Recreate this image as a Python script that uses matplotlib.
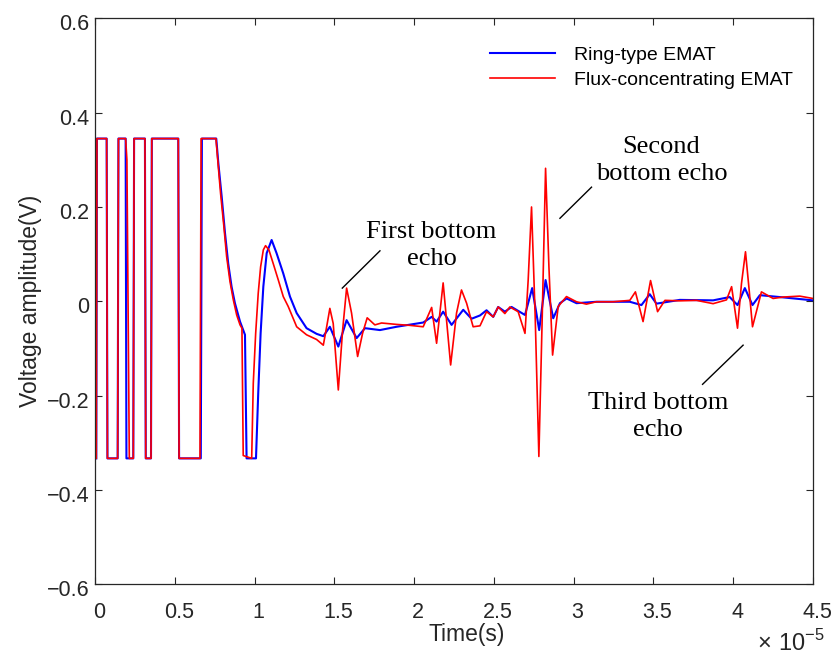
import matplotlib.pyplot as plt
from matplotlib.ticker import FuncFormatter, MultipleLocator
from matplotlib.transforms import ScaledTranslation

# time in units of 1e-5 s, voltage in V
ring_t = [0.008, 0.012, 0.073, 0.078, 0.142, 0.147, 0.192, 0.197, 0.240, 0.245,
          0.313, 0.318, 0.351, 0.356, 0.522, 0.527, 0.663, 0.670, 0.760, 0.773,
          0.794, 0.815, 0.835, 0.856, 0.877, 0.909, 0.940, 0.950, 1.009, 1.023,
          1.038, 1.055, 1.076, 1.107, 1.138, 1.180, 1.222, 1.264, 1.326, 1.389,
          1.431, 1.472, 1.525, 1.577, 1.640, 1.692, 1.786, 1.890, 2.057, 2.110,
          2.141, 2.182, 2.235, 2.308, 2.360, 2.413, 2.454, 2.496, 2.527, 2.569,
          2.611, 2.695, 2.740, 2.784, 2.824, 2.872, 2.914, 2.956, 3.018, 3.143,
          3.352, 3.425, 3.477, 3.519, 3.665, 3.874, 3.978, 4.027, 4.073, 4.121,
          4.167, 4.292, 4.5]
ring_v = [-0.333, 0.345, 0.345, -0.333, -0.333, 0.345, 0.345, -0.333, -0.333, 0.345,
          0.345, -0.333, -0.333, 0.345, 0.345, -0.333, -0.333, 0.345, 0.345, 0.293,
          0.222, 0.144, 0.080, 0.031, -0.004, -0.043, -0.071, -0.333, -0.333, -0.195,
          -0.068, 0.031, 0.102, 0.130, 0.102, 0.059, 0.010, -0.025, -0.057, -0.069,
          -0.074, -0.054, -0.096, -0.040, -0.078, -0.057, -0.061, -0.054, -0.045, -0.033,
          -0.043, -0.022, -0.050, -0.018, -0.037, -0.030, -0.019, -0.033, -0.012, -0.022,
          -0.012, -0.029, 0.028, -0.061, 0.045, -0.036, -0.004, 0.006, -0.004, -0.001,
          -0.001, -0.008, 0.015, -0.005, 0.003, 0.002, 0.009, -0.008, 0.028, -0.008,
          0.013, 0.009, 0.002]

flux_t = [0.008, 0.012, 0.073, 0.078, 0.142, 0.147, 0.192, 0.200, 0.215, 0.240,
          0.245, 0.313, 0.318, 0.351, 0.356, 0.522, 0.527, 0.658, 0.665, 0.758,
          0.773, 0.787, 0.808, 0.825, 0.846, 0.867, 0.888, 0.909, 0.921, 0.929,
          0.982, 0.992, 1.007, 1.023, 1.038, 1.055, 1.069, 1.090, 1.117, 1.149,
          1.180, 1.211, 1.264, 1.326, 1.389, 1.431, 1.452, 1.472, 1.493, 1.525,
          1.552, 1.577, 1.608, 1.646, 1.677, 1.706, 1.754, 1.796, 1.890, 1.974,
          2.057, 2.110, 2.141, 2.182, 2.229, 2.266, 2.297, 2.329, 2.370, 2.413,
          2.454, 2.496, 2.527, 2.569, 2.600, 2.652, 2.695, 2.715, 2.736, 2.759,
          2.782, 2.803, 2.824, 2.845, 2.868, 2.903, 2.955, 3.018, 3.080, 3.143,
          3.248, 3.352, 3.387, 3.435, 3.482, 3.526, 3.572, 3.665, 3.770, 3.874,
          3.958, 3.990, 4.027, 4.052, 4.077, 4.100, 4.121, 4.177, 4.250, 4.313,
          4.417, 4.5]
flux_v = [-0.333, 0.345, 0.345, -0.333, -0.333, 0.345, 0.345, 0.30, -0.333, -0.333,
          0.345, 0.345, -0.333, -0.333, 0.345, 0.345, -0.333, -0.333, 0.345, 0.345,
          0.285, 0.229, 0.158, 0.095, 0.042, 0.003, -0.029, -0.050, -0.057, -0.327,
          -0.333, -0.174, -0.068, 0.017, 0.073, 0.109, 0.118, 0.109, 0.080, 0.045,
          0.010, -0.011, -0.054, -0.071, -0.081, -0.093, -0.054, -0.015, -0.047, -0.188,
          -0.061, 0.028, -0.025, -0.117, -0.068, -0.035, -0.050, -0.046, -0.049, -0.051,
          -0.054, -0.013, -0.089, 0.039, -0.135, -0.025, 0.024, -0.004, -0.054, -0.052,
          -0.022, -0.033, -0.012, -0.026, -0.012, -0.022, -0.068, 0.045, 0.200, -0.033,
          -0.329, -0.033, 0.282, 0.073, -0.114, -0.011, 0.010, -0.001, -0.006, -0.001,
          -0.001, 0.002, 0.020, -0.043, 0.044, -0.022, 0.002, 0.001, 0.002, -0.005,
          0.003, 0.031, -0.057, 0.038, 0.105, 0.024, -0.054, 0.020, 0.006, 0.009,
          0.011, 0.006]

# annotations: text, text centre, pointer line start and end
echo_labels = ["First bottom\necho", "Second\nbottom echo", "Third bottom\necho"]
label_pos = [(2.110, 0.118), (3.550, 0.298), (3.529, -0.244)]
pointer_from = [(1.550, 0.028), (2.914, 0.176), (3.808, -0.176)]
pointer_to = [(1.786, 0.107), (3.112, 0.242), (4.062, -0.093)]

plt.rcParams['font.family'] = ['Liberation Sans', 'DejaVu Sans']
plt.rcParams['mathtext.fontset'] = 'custom'
plt.rcParams['mathtext.rm'] = 'Liberation Sans'

fig = plt.figure(figsize=(8.37, 6.56), dpi=100)
ax = fig.add_axes([0.1135, 0.1093, 0.8578, 0.8628])

ax.plot(ring_t, ring_v, color='#0000ff', lw=1.5, label='Ring-type EMAT')
ax.plot(flux_t, flux_v, color='#ff0000', lw=1.2, label='Flux-concentrating EMAT')

for txt, p, a, b in zip(echo_labels, label_pos, pointer_from, pointer_to):
    ax.plot([a[0], b[0]], [a[1], b[1]], color='black', lw=1.0)
    ax.text(p[0], p[1], txt, ha='center', va='center', fontsize=19,
            family='Liberation Serif', linespacing=1.3)

ax.set_xlim(0, 4.5)
ax.set_ylim(-0.6, 0.6)
ax.xaxis.set_major_locator(MultipleLocator(0.5))
ax.yaxis.set_major_locator(MultipleLocator(0.2))
fmt = FuncFormatter(lambda v, pos: ('%g' % v).replace('-', '\u2212'))
ax.xaxis.set_major_formatter(fmt)
ax.yaxis.set_major_formatter(fmt)
ax.tick_params(direction='in', length=5, width=0.8, labelsize=15.5,
               top=True, right=True, colors='#262626', labelcolor='#262626')
ax.tick_params(axis='x', pad=13)
ax.tick_params(axis='y', pad=4)
for s in ax.spines.values():
    s.set_color('#262626')
    s.set_linewidth(0.9)

# MATLAB-style small shift of tick labels
for lab in ax.get_xticklabels():
    lab.set_transform(lab.get_transform() + ScaledTranslation(0.04, 0, fig.dpi_scale_trans))
for lab in ax.get_yticklabels():
    lab.set_transform(lab.get_transform() + ScaledTranslation(0, -0.04, fig.dpi_scale_trans))

ax.set_xlabel('Time(s)', fontsize=16.5, color='#262626')
ax.xaxis.set_label_coords(0.517, -0.068)
ax.set_ylabel('Voltage amplitude(V)', fontsize=16.5, color='#262626')
ax.yaxis.set_label_coords(-0.074, 0.5)
ax.text(1.017, -0.104, r'$\times\ 10^{-5}$', transform=ax.transAxes,
        ha='right', va='center', fontsize=17, color='#262626')

ax.legend(loc='upper right', frameon=False, fontsize=14, handlelength=3.35,
          handletextpad=1.0, labelspacing=0.4, borderpad=0,
          bbox_to_anchor=(0.986, 0.968))

plt.savefig('out.png', dpi=100)
